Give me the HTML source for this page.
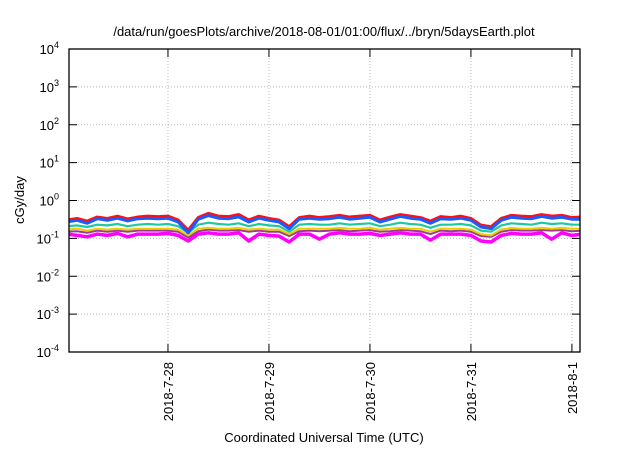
<!DOCTYPE html>
<html><head><meta charset="utf-8"><style>
body{margin:0;background:#fff;}
svg text{font-family:"Liberation Sans",sans-serif;fill:#000;}
</style></head><body>
<svg id="chart" width="640" height="448">
<text x="324" y="36" font-size="13" text-anchor="middle">/data/run/goesPlots/archive/2018-08-01/01:00/flux/../bryn/5daysEarth.plot</text>
<text transform="translate(24,200) rotate(-90)" font-size="13" text-anchor="middle">cGy/day</text>
<text x="324" y="442" font-size="13" text-anchor="middle">Coordinated Universal Time (UTC)</text>
<g id="grid"></g><g id="series"></g><g id="axes"></g>
</svg>
<script>
const dayLabels=["2018-7-28","2018-7-29","2018-7-30","2018-7-31","2018-8-1"];
const dayOffsets=[0,1,2,3,4];
const yExps=[-4,-3,-2,-1,0,1,2,3,4];
const times=[-1.0,-0.9,-0.8,-0.7,-0.6,-0.5,-0.4,-0.3,-0.2,-0.1,0,0.1,0.2,0.3,0.4,0.5,0.6,0.7,0.8,0.9,1.0,1.1,1.2,1.3,1.4,1.5,1.6,1.7,1.8,1.9,2.0,2.1,2.2,2.3,2.4,2.5,2.6,2.7,2.8,2.9,3.0,3.1,3.2,3.3,3.4,3.5,3.6,3.7,3.8,3.9,4.0,4.1];
const redVals=[0.30,0.33,0.28,0.36,0.33,0.38,0.32,0.36,0.38,0.37,0.38,0.30,0.16,0.35,0.45,0.38,0.37,0.42,0.30,0.38,0.33,0.30,0.20,0.35,0.38,0.35,0.37,0.40,0.36,0.38,0.40,0.30,0.36,0.42,0.38,0.35,0.28,0.37,0.35,0.38,0.33,0.22,0.20,0.33,0.40,0.38,0.37,0.42,0.38,0.40,0.35,0.36];
const blueVals=[0.27,0.30,0.25,0.33,0.30,0.34,0.29,0.33,0.34,0.33,0.34,0.27,0.14,0.32,0.40,0.34,0.33,0.37,0.27,0.34,0.30,0.27,0.18,0.32,0.34,0.32,0.33,0.36,0.32,0.34,0.36,0.27,0.32,0.38,0.34,0.32,0.25,0.33,0.32,0.34,0.30,0.20,0.18,0.30,0.36,0.34,0.33,0.38,0.34,0.36,0.32,0.32];
const tealVals=[0.21,0.22,0.20,0.23,0.22,0.24,0.21,0.23,0.24,0.23,0.24,0.21,0.14,0.23,0.26,0.24,0.23,0.25,0.21,0.24,0.22,0.21,0.15,0.23,0.24,0.23,0.23,0.25,0.23,0.24,0.25,0.21,0.23,0.26,0.24,0.23,0.19,0.23,0.23,0.24,0.22,0.16,0.15,0.22,0.25,0.24,0.23,0.26,0.24,0.25,0.23,0.23];
const yellowVals=[0.17,0.18,0.16,0.18,0.17,0.18,0.17,0.18,0.18,0.18,0.18,0.17,0.12,0.18,0.19,0.18,0.18,0.19,0.17,0.18,0.17,0.17,0.13,0.18,0.18,0.18,0.18,0.19,0.18,0.18,0.19,0.17,0.18,0.19,0.18,0.18,0.15,0.18,0.18,0.18,0.17,0.13,0.12,0.17,0.19,0.18,0.18,0.19,0.18,0.19,0.18,0.18];
const purpleVals=[0.15,0.155,0.14,0.16,0.15,0.16,0.15,0.16,0.16,0.16,0.16,0.15,0.105,0.155,0.17,0.16,0.16,0.165,0.15,0.16,0.15,0.15,0.115,0.155,0.16,0.155,0.16,0.165,0.155,0.16,0.165,0.15,0.155,0.165,0.16,0.155,0.13,0.16,0.155,0.16,0.15,0.115,0.11,0.15,0.165,0.16,0.16,0.165,0.16,0.165,0.155,0.16];
const magentaVals=[0.13,0.12,0.11,0.13,0.12,0.135,0.11,0.13,0.13,0.13,0.135,0.12,0.085,0.13,0.14,0.13,0.13,0.14,0.085,0.13,0.12,0.115,0.08,0.13,0.13,0.095,0.13,0.14,0.13,0.13,0.135,0.12,0.13,0.14,0.13,0.13,0.09,0.13,0.13,0.13,0.12,0.085,0.08,0.12,0.135,0.13,0.13,0.14,0.095,0.14,0.12,0.13];
const L=69,R=580,T=49,B=352;
const t0=-0.98,t1=4.08;
const xs=t=>L+(t-t0)/(t1-t0)*(R-L);
const ys=v=>B-(Math.log10(v)+4)/8*(B-T);
const NS="http://www.w3.org/2000/svg";
function mk(tag,attrs,parent){const e=document.createElementNS(NS,tag);for(const k in attrs)e.setAttribute(k,attrs[k]);parent.appendChild(e);return e;}
const grid=document.getElementById('grid'),axes=document.getElementById('axes'),ser=document.getElementById('series');
yExps.forEach(p=>{const y=ys(Math.pow(10,p));
 if(p>-4&&p<4){const g=mk('line',{x1:L,x2:R,y1:y,y2:y,stroke:'#bbb','stroke-dasharray':'1,2','stroke-width':1},grid);
 
 }
 mk('line',{x1:L,x2:L+8,y1:y,y2:y,stroke:'#000'},axes);
 mk('line',{x1:R-8,x2:R,y1:y,y2:y,stroke:'#000'},axes);
 const t=mk('text',{x:L-10,y:y+5,'font-size':13,'text-anchor':'end'},axes);
 
 
 t.textContent='10';
 const s=mk('tspan',{dy:-6,'font-size':9},t);s.textContent=String(p);
});
dayOffsets.forEach((d,i)=>{const x=xs(d);
 const g=mk('line',{x1:x,x2:x,y1:T,y2:B,stroke:'#bbb','stroke-dasharray':'1,2','stroke-width':1},grid);
 
 
 mk('line',{x1:x,x2:x,y1:B,y2:B-8,stroke:'#000'},axes);
 mk('line',{x1:x,x2:x,y1:T,y2:T+8,stroke:'#000'},axes);
 const t=mk('text',{transform:`translate(${x+5},${B+10}) rotate(-90)`,'font-size':13,'text-anchor':'end'},axes);
 
 
 t.textContent=dayLabels[i];
});
const fr=mk('rect',{x:L,y:T,width:R-L,height:B-T,fill:'none',stroke:'#000','stroke-width':1.3},axes);


const clip=mk('clipPath',{id:'pc'},document.getElementById('chart'));
mk('rect',{x:L,y:T,width:R-L,height:B-T},clip);
const defs=[[magentaVals,'#ff00ff',3.5,'series-magenta'],[purpleVals,'#9b3d8f',2,'series-purple'],[yellowVals,'#e8d000',2,'series-yellow'],[tealVals,'#20c8a0',2.2,'series-teal'],[redVals,'#ff1010',3.5,'series-red'],[blueVals,'#1a5cff',3,'series-blue']];
defs.forEach(([vals,c,w,n])=>{
 const d=vals.map((v,i)=>(i?'L':'M')+xs(times[i]).toFixed(1)+','+ys(v).toFixed(1)).join('');
 const p=mk('path',{d:d,fill:'none',stroke:c,'stroke-width':w,'stroke-linejoin':'round','clip-path':'url(#pc)'},ser);
 
 
});
</script>
</body></html>
